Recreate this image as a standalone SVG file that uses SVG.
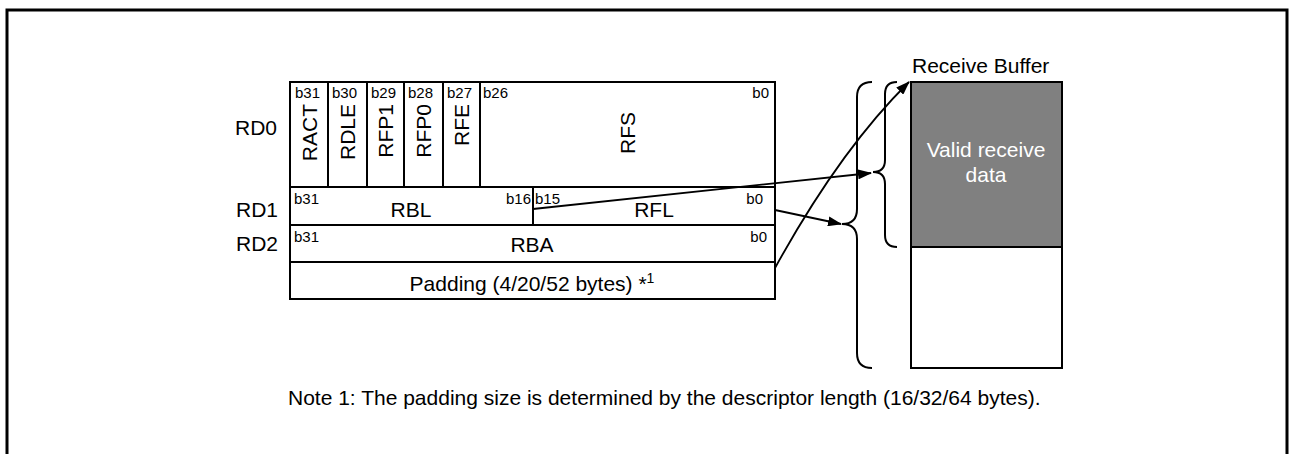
<svg xmlns="http://www.w3.org/2000/svg" width="1291" height="454" viewBox="0 0 1291 454">
<style>
text{font-family:"Liberation Sans",Arial,sans-serif;fill:#000}
.lbl{font-size:21px}
.bit{font-size:15px}
.cell{fill:#fff;stroke:#000;stroke-width:2}
.sep{stroke:#000;stroke-width:2;fill:none}
.brace{stroke:#000;stroke-width:2;fill:none}
.conn{stroke:#000;stroke-width:1.8;fill:none;marker-end:url(#ah)}
.wt{fill:#fff}
</style>
<defs>
<marker id="ah" markerUnits="userSpaceOnUse" markerWidth="14" markerHeight="10" refX="13" refY="5" orient="auto"><path d="M0,0 L14,5 L0,10 Z" fill="#000"/></marker>
</defs>
<rect width="1291" height="454" fill="#fff"/>
<path d="M7,454 V10 H1287 V454" fill="none" stroke="#000" stroke-width="3"/>

<g id="rd0">
<text class="lbl" x="235" y="135">RD0</text>
<rect class="cell" x="290" y="82" width="485" height="105"/>
<path class="sep" d="M328,82V187M367,82V187M404,82V187M443,82V187M480,82V187"/>
<text class="bit" x="295" y="98">b31</text>
<text class="bit" x="332" y="98">b30</text>
<text class="bit" x="371" y="98">b29</text>
<text class="bit" x="408" y="98">b28</text>
<text class="bit" x="447" y="98">b27</text>
<text class="bit" x="483" y="98">b26</text>
<text class="bit" x="769" y="98" text-anchor="end">b0</text>
<text class="lbl" transform="translate(317,104) rotate(-90)" text-anchor="end">RACT</text>
<text class="lbl" transform="translate(355,104) rotate(-90)" text-anchor="end">RDLE</text>
<text class="lbl" transform="translate(393,104) rotate(-90)" text-anchor="end">RFP1</text>
<text class="lbl" transform="translate(431,104) rotate(-90)" text-anchor="end">RFP0</text>
<text class="lbl" transform="translate(469,104) rotate(-90)" text-anchor="end">RFE</text>
<text class="lbl" transform="translate(635,133) rotate(-90)" text-anchor="middle">RFS</text>
</g>

<g id="rd1">
<text class="lbl" x="236" y="217">RD1</text>
<rect class="cell" x="290" y="187" width="485" height="38"/>
<path class="sep" d="M533,187V225"/>
<text class="bit" x="294" y="204">b31</text>
<text class="lbl" x="411" y="217" text-anchor="middle">RBL</text>
<text class="bit" x="531" y="204" text-anchor="end">b16</text>
<text class="bit" x="535" y="204">b15</text>
<text class="lbl" x="654" y="217" text-anchor="middle">RFL</text>
<text class="bit" x="763" y="204" text-anchor="end">b0</text>
</g>

<g id="rd2">
<text class="lbl" x="236" y="251">RD2</text>
<rect class="cell" x="290" y="225" width="485" height="37"/>
<text class="bit" x="294" y="242">b31</text>
<text class="lbl" x="532" y="252" text-anchor="middle">RBA</text>
<text class="bit" x="767" y="242" text-anchor="end">b0</text>
</g>

<g id="padding">
<rect class="cell" x="290" y="262" width="485" height="37"/>
<text class="lbl" x="532" y="291" text-anchor="middle">Padding (4/20/52 bytes) *<tspan font-size="14" dy="-8">1</tspan></text>
</g>

<g id="receive-buffer">
<text class="lbl" x="912" y="73">Receive Buffer</text>
<rect x="911" y="82" width="151" height="286" fill="#fff" stroke="#000" stroke-width="2"/>
<rect x="911" y="82" width="151" height="165" fill="#808080" stroke="#000" stroke-width="2"/>
<text class="lbl wt" x="986" y="157" text-anchor="middle">Valid receive</text>
<text class="lbl wt" x="986" y="182" text-anchor="middle">data</text>
</g>

<g id="braces">
<path class="brace" d="M897,82 Q885,82 885,94 L885,160 Q885,172 873,172 Q885,172 885,184 L885,235 Q885,247 897,247"/>
<path class="brace" d="M872,82 Q857,82 857,97 L857,209 Q857,224 842,224 Q857,224 857,239 L857,353 Q857,368 872,368"/>
</g>

<g id="connectors">
<path class="conn" d="M533,209 L871,173"/>
<path class="conn" d="M775,210 L841,224"/>
<path class="conn" d="M775,268 Q840,150 909,82"/>
</g>

<g id="note">
<text class="lbl" x="288" y="405">Note 1: The padding size is determined by the descriptor length (16/32/64 bytes).</text>
</g>
</svg>
